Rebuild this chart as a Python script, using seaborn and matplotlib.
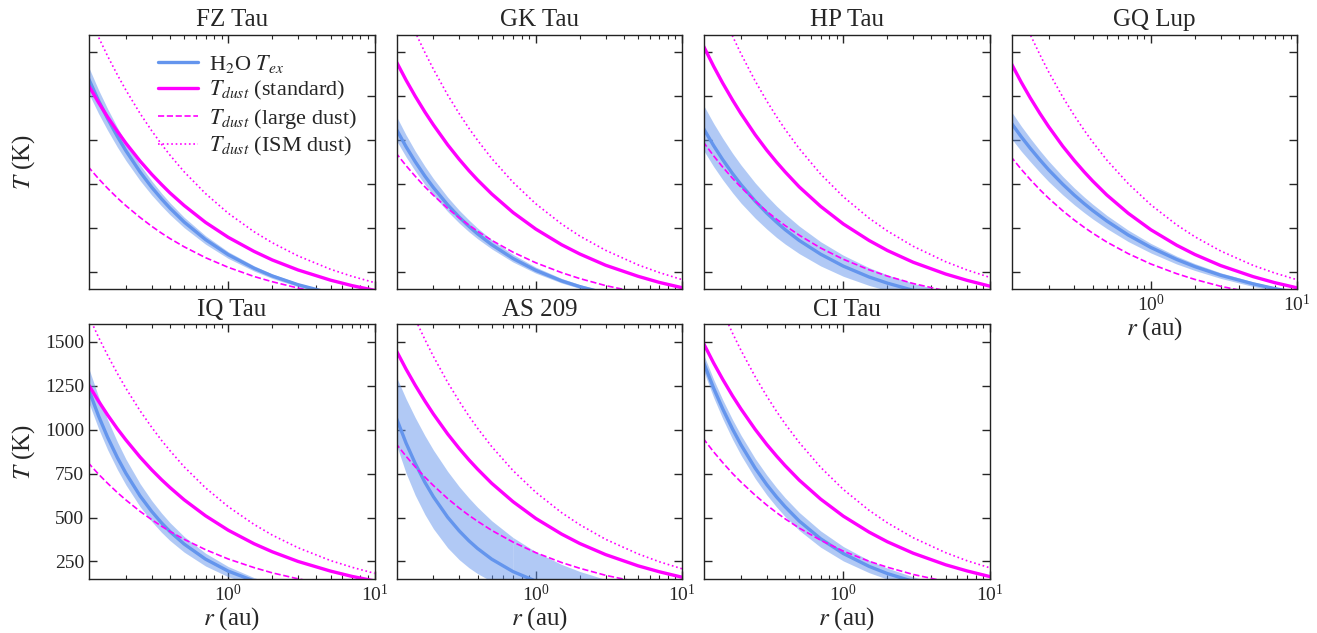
import matplotlib
matplotlib.use('Agg')
import matplotlib.pyplot as plt
import seaborn as sns

radius = [0.11, 0.13, 0.15, 0.175, 0.2, 0.25, 0.3, 0.35, 0.4, 0.5, 0.7,
          1.0, 1.5, 2.0, 3.0, 5.0, 7.0, 10.0]

targets = ['FZ Tau', 'GK Tau', 'HP Tau', 'GQ Lup', 'IQ Tau', 'AS 209', 'CI Tau']

# H2O excitation temperature (K): best fit and band edges
tex_mid = {
    'FZ Tau': [1359, 1226, 1123, 1021, 940, 819, 732, 666, 613, 534, 434, 348, 271, 227, 177, 129],
    'GK Tau': [1072, 963, 878, 795, 730, 632, 562, 509, 467, 405, 326, 259, 199, 166, 128],
    'HP Tau': [1072, 969, 889, 810, 747, 653, 585, 533, 491, 429, 351, 283, 221, 186, 145, 107],
    'GQ Lup': [1104, 1020, 954, 887, 832, 749, 687, 639, 600, 540, 460, 389, 321, 280, 231, 182, 155, 131],
    'IQ Tau': [1241, 1079, 957, 841, 752, 623, 535, 470, 420, 349, 263, 195, 139, 109],
    'AS 209': [1080, 924, 809, 700, 618, 502, 424, 367, 324, 263, 192, 138, 94],
    'CI Tau': [1391, 1237, 1119, 1004, 914, 781, 687, 617, 562, 480, 379, 295, 222, 181, 136],
}
tex_hi = {
    'FZ Tau': [1427, 1287, 1179, 1072, 987, 860, 769, 699, 644, 561, 456, 365, 285, 238, 186, 135],
    'GK Tau': [1147, 1030, 939, 851, 781, 676, 601, 545, 500, 433, 349, 277, 213, 178, 137],
    'HP Tau': [1205, 1096, 1011, 926, 859, 757, 683, 625, 580, 511, 422, 345, 274, 233, 185, 138, 114],
    'GQ Lup': [1170, 1081, 1011, 940, 882, 794, 728, 677, 636, 572, 488, 412, 340, 297, 245, 193, 164, 139],
    'IQ Tau': [1365, 1189, 1057, 931, 833, 693, 597, 526, 471, 392, 297, 221, 158, 125],
    'AS 209': [1314, 1176, 1070, 966, 884, 763, 676, 611, 559, 482, 386, 305, 233, 193, 147, 105],
    'CI Tau': [1437, 1287, 1171, 1058, 969, 836, 742, 670, 613, 529, 424, 335, 256, 212, 162, 116],
}
tex_lo = {
    'FZ Tau': [1277, 1152, 1056, 960, 884, 770, 688, 626, 576, 502, 408, 327, 255, 213, 166, 121],
    'GK Tau': [1008, 905, 825, 747, 686, 594, 528, 478, 439, 381, 306, 243, 187, 156, 120],
    'HP Tau': [948, 850, 775, 701, 642, 556, 494, 446, 409, 354, 284, 225, 173, 144, 110],
    'GQ Lup': [1016, 938, 878, 816, 765, 689, 632, 588, 552, 497, 423, 358, 295, 258, 213, 167, 143, 121],
    'IQ Tau': [1169, 1007, 886, 773, 686, 562, 478, 416, 369, 303, 224, 163, 114],
    'AS 209': [931, 753, 628, 517, 436, 328, 260, 214, 181, 136, 89],
    'CI Tau': [1344, 1184, 1063, 946, 855, 722, 629, 560, 506, 427, 331, 253, 186, 149, 110],
}

# dust temperatures (K) for the three grain models
tdust_std = {
    'FZ Tau': [1318, 1215, 1132, 1050, 983, 881, 806, 748, 700, 628, 532, 447, 367, 318, 261, 203, 172, 145],
    'GK Tau': [1457, 1342, 1251, 1160, 1087, 974, 891, 826, 774, 694, 588, 494, 405, 352, 288, 225, 190, 160],
    'HP Tau': [1542, 1421, 1325, 1229, 1151, 1031, 943, 875, 820, 734, 623, 523, 429, 372, 305, 238, 202, 169],
    'GQ Lup': [1445, 1331, 1241, 1151, 1078, 966, 884, 820, 768, 688, 584, 490, 402, 349, 286, 223, 189, 159],
    'IQ Tau': [1262, 1163, 1084, 1005, 942, 844, 772, 716, 671, 601, 510, 428, 351, 305, 250, 195, 165, 139],
    'AS 209': [1460, 1345, 1254, 1163, 1089, 976, 893, 828, 776, 695, 590, 495, 406, 352, 289, 225, 191, 160],
    'CI Tau': [1498, 1380, 1287, 1193, 1118, 1002, 916, 850, 796, 713, 605, 508, 417, 362, 297, 231, 196, 164],
}
tdust_large = {
    'FZ Tau': [851, 781, 726, 671, 627, 560, 510, 471, 440, 393, 331, 276, 224, 194, 158, 121, 102, 85],
    'GK Tau': [931, 855, 795, 734, 686, 612, 558, 516, 482, 430, 362, 302, 246, 212, 172, 133, 112, 93],
    'HP Tau': [992, 911, 847, 783, 732, 653, 595, 550, 514, 459, 386, 322, 262, 226, 184, 142, 119, 99],
    'GQ Lup': [909, 835, 776, 717, 670, 598, 545, 504, 471, 420, 354, 295, 240, 207, 168, 130, 109, 91],
    'IQ Tau': [814, 747, 695, 642, 600, 535, 488, 451, 421, 376, 317, 264, 215, 185, 151, 116, 98, 82],
    'AS 209': [925, 849, 789, 730, 682, 608, 554, 512, 479, 427, 360, 300, 244, 211, 171, 132, 111, 93],
    'CI Tau': [952, 874, 813, 751, 702, 627, 571, 528, 493, 440, 371, 309, 251, 217, 176, 136, 115, 95],
}
tdust_ism = {
    'FZ Tau': [1722, 1587, 1479, 1372, 1285, 1152, 1054, 977, 915, 820, 696, 584, 479, 416, 341, 265, 225, 189],
    'GK Tau': [1881, 1733, 1616, 1499, 1404, 1258, 1151, 1067, 1000, 896, 760, 638, 523, 454, 373, 290, 246, 206],
    'HP Tau': [1999, 1842, 1717, 1593, 1492, 1337, 1223, 1134, 1062, 952, 807, 678, 556, 483, 396, 308, 261, 219],
    'GQ Lup': [1864, 1717, 1601, 1485, 1390, 1246, 1140, 1057, 990, 887, 753, 632, 518, 450, 369, 287, 244, 205],
    'IQ Tau': [1657, 1527, 1424, 1320, 1236, 1108, 1014, 940, 881, 789, 669, 562, 461, 400, 328, 255, 217, 182],
    'AS 209': [1899, 1750, 1631, 1513, 1417, 1270, 1162, 1077, 1009, 904, 767, 644, 528, 459, 376, 293, 248, 208],
    'CI Tau': [1946, 1793, 1672, 1550, 1452, 1302, 1191, 1104, 1034, 927, 786, 660, 541, 470, 385, 300, 254, 214],
}

y_ticks = [250, 500, 750, 1000, 1250, 1500]

sns.set_style('ticks')
plt.rcParams['font.family'] = ['Liberation Serif', 'DejaVu Serif']
plt.rcParams['mathtext.fontset'] = 'stix'
plt.rcParams['xtick.direction'] = 'in'
plt.rcParams['ytick.direction'] = 'in'

blue = 'cornflowerblue'
pink = 'magenta'

fig, axes = plt.subplots(2, 4, figsize=(13.17, 6.33), dpi=100)
fig.subplots_adjust(left=0.0676, right=0.985, top=0.945, bottom=0.0853,
                    wspace=0.077, hspace=0.137)
axes = axes.ravel()
axes[7].set_visible(False)

for i, name in enumerate(targets):
    ax = axes[i]
    n = len(tex_mid[name])
    nh = len(tex_hi[name])
    nl = len(tex_lo[name])
    m = min(nh, nl)
    ax.fill_between(radius[:m], tex_lo[name][:m], tex_hi[name][:m],
                    color=blue, alpha=0.5, lw=0)
    if nh > m:
        # lower edge already left the plot; shade down to the axis
        ax.fill_between(radius[m - 1:nh], [0] * (nh - m + 1), tex_hi[name][m - 1:nh],
                        color=blue, alpha=0.5, lw=0)
    sns.lineplot(x=radius[:n], y=tex_mid[name], ax=ax, color=blue, lw=2.4,
                 label=r'H$_2$O $T_{ex}$')
    sns.lineplot(x=radius, y=tdust_std[name], ax=ax, color=pink, lw=2.4,
                 label=r'$T_{dust}$ (standard)')
    sns.lineplot(x=radius, y=tdust_large[name], ax=ax, color=pink, lw=1.2,
                 linestyle='--', label=r'$T_{dust}$ (large dust)')
    sns.lineplot(x=radius, y=tdust_ism[name], ax=ax, color=pink, lw=1.2,
                 linestyle=':', label=r'$T_{dust}$ (ISM dust)')

    ax.set_xscale('log')
    ax.set_xlim(0.112, 10)
    ax.set_ylim(150, 1600)
    ax.set_yticks(y_ticks)
    ax.set_title(name, fontsize=18)
    ax.tick_params(which='both', top=True, right=True, labelsize=14)
    ax.tick_params(which='major', length=6, width=1)
    ax.tick_params(which='minor', length=3, width=0.8)
    for sp in ax.spines.values():
        sp.set_linewidth(1.0)
        sp.set_color('#222222')

    if i in (0, 4):
        ax.set_ylabel(r'$T$ (K)', fontsize=18, labelpad=6)
    else:
        ax.set_ylabel('')
    if i != 4:
        ax.tick_params(labelleft=False)
    if i in (3, 4, 5, 6):
        ax.set_xlabel(r'$r$ (au)', fontsize=18, labelpad=0)
    else:
        ax.set_xlabel('')
        ax.tick_params(which='both', labelbottom=False)

    if i == 0:
        ax.legend(loc='upper right', frameon=False, fontsize=16,
                  handlelength=1.8, handletextpad=0.5, borderaxespad=0.4,
                  labelspacing=0.2)
    else:
        ax.get_legend().remove()

fig.align_ylabels([axes[0], axes[4]])

plt.savefig('out.png', dpi=100)
